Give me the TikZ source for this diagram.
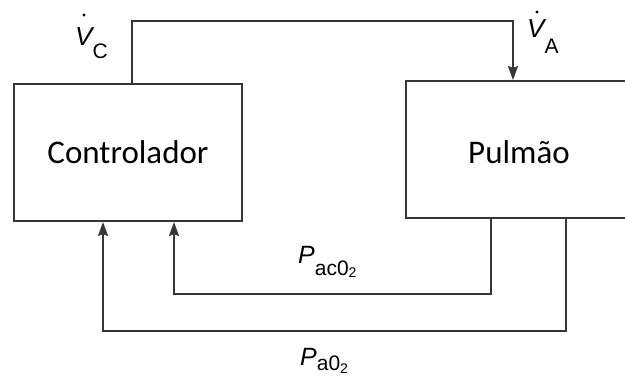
\documentclass[tikz,border=0pt]{standalone}
\usepackage{fontspec}
\setmainfont{Liberation Sans}
\newfontfamily\calib{Carlito}
\usetikzlibrary{arrows.meta}
\definecolor{ln}{HTML}{363636}
\tikzset{
  box/.style={draw=ln, line width=2pt, inner sep=0pt, font=\calib\fontsize{33}{33}\selectfont},
  wire/.style={draw=ln, line width=2pt},
  arr/.style={wire, -{Stealth[length=14pt,width=10pt,inset=2pt]}},
  lab/.style={anchor=base west, inner sep=0pt},
  dotmark/.style={fill=black}
}
\newcommand\bigsz{\fontsize{26}{26}\selectfont}
\newcommand\psz{\fontsize{25}{25}\selectfont}
\newcommand\subsz{\fontsize{21}{21}\selectfont}
\newcommand\twosz{\fontsize{14}{14}\selectfont}
\begin{document}
\begin{tikzpicture}[x=1pt,y=-1pt]
\useasboundingbox (0,0) rectangle (625,383);
\fill[white] (0,0) rectangle (625,383);
\clip (0,0) rectangle (625,383);
% boxes
\node[box, minimum width=228pt, minimum height=137pt] (ctrl) at (128,152.5) {Controlador};
\node[box, minimum width=226pt, minimum height=137pt] (pulm) at (519,149.5) {};
\node[font=\calib\fontsize{33}{33}\selectfont, inner sep=0pt] (pulmtxt) at (519,152.5) {Pulmão};
% coordinates
\coordinate (t1) at (132,21);
\coordinate (t2) at (513,21);
\coordinate (i1) at (491,294);
\coordinate (i2) at (174,294);
\coordinate (o1) at (566,331);
\coordinate (o2) at (103,331);
% connectors
\draw[arr] (ctrl.north -| t1) -- (t1) -- (t2) -- (pulm.north -| t2);
\draw[arr] (pulm.south -| i1) -- (i1) -- (i2) -- (ctrl.south -| i2);
\draw[arr] (pulm.south -| o1) -- (o1) -- (o2) -- (ctrl.south -| o2);
% labels
\node[lab] (vc) at (75,45) {\bigsz\itshape V\raisebox{-13pt}{\upshape\subsz C}};
\fill[dotmark] (84,15) circle (1.6pt);
\node[lab] (va) at (527,37) {\bigsz\itshape V\raisebox{-16pt}{\upshape\subsz A}};
\fill[dotmark] (537,12) circle (1.6pt);
\node[lab] (pac) at (298,263) {\psz\itshape P\raisebox{-12pt}{\upshape\subsz ac0\raisebox{-2pt}{\twosz 2}}};
\node[lab] (pa) at (300,365) {\psz\itshape P\raisebox{-5pt}{\upshape\subsz a0\raisebox{-3pt}{\twosz 2}}};
\end{tikzpicture}
\end{document}
